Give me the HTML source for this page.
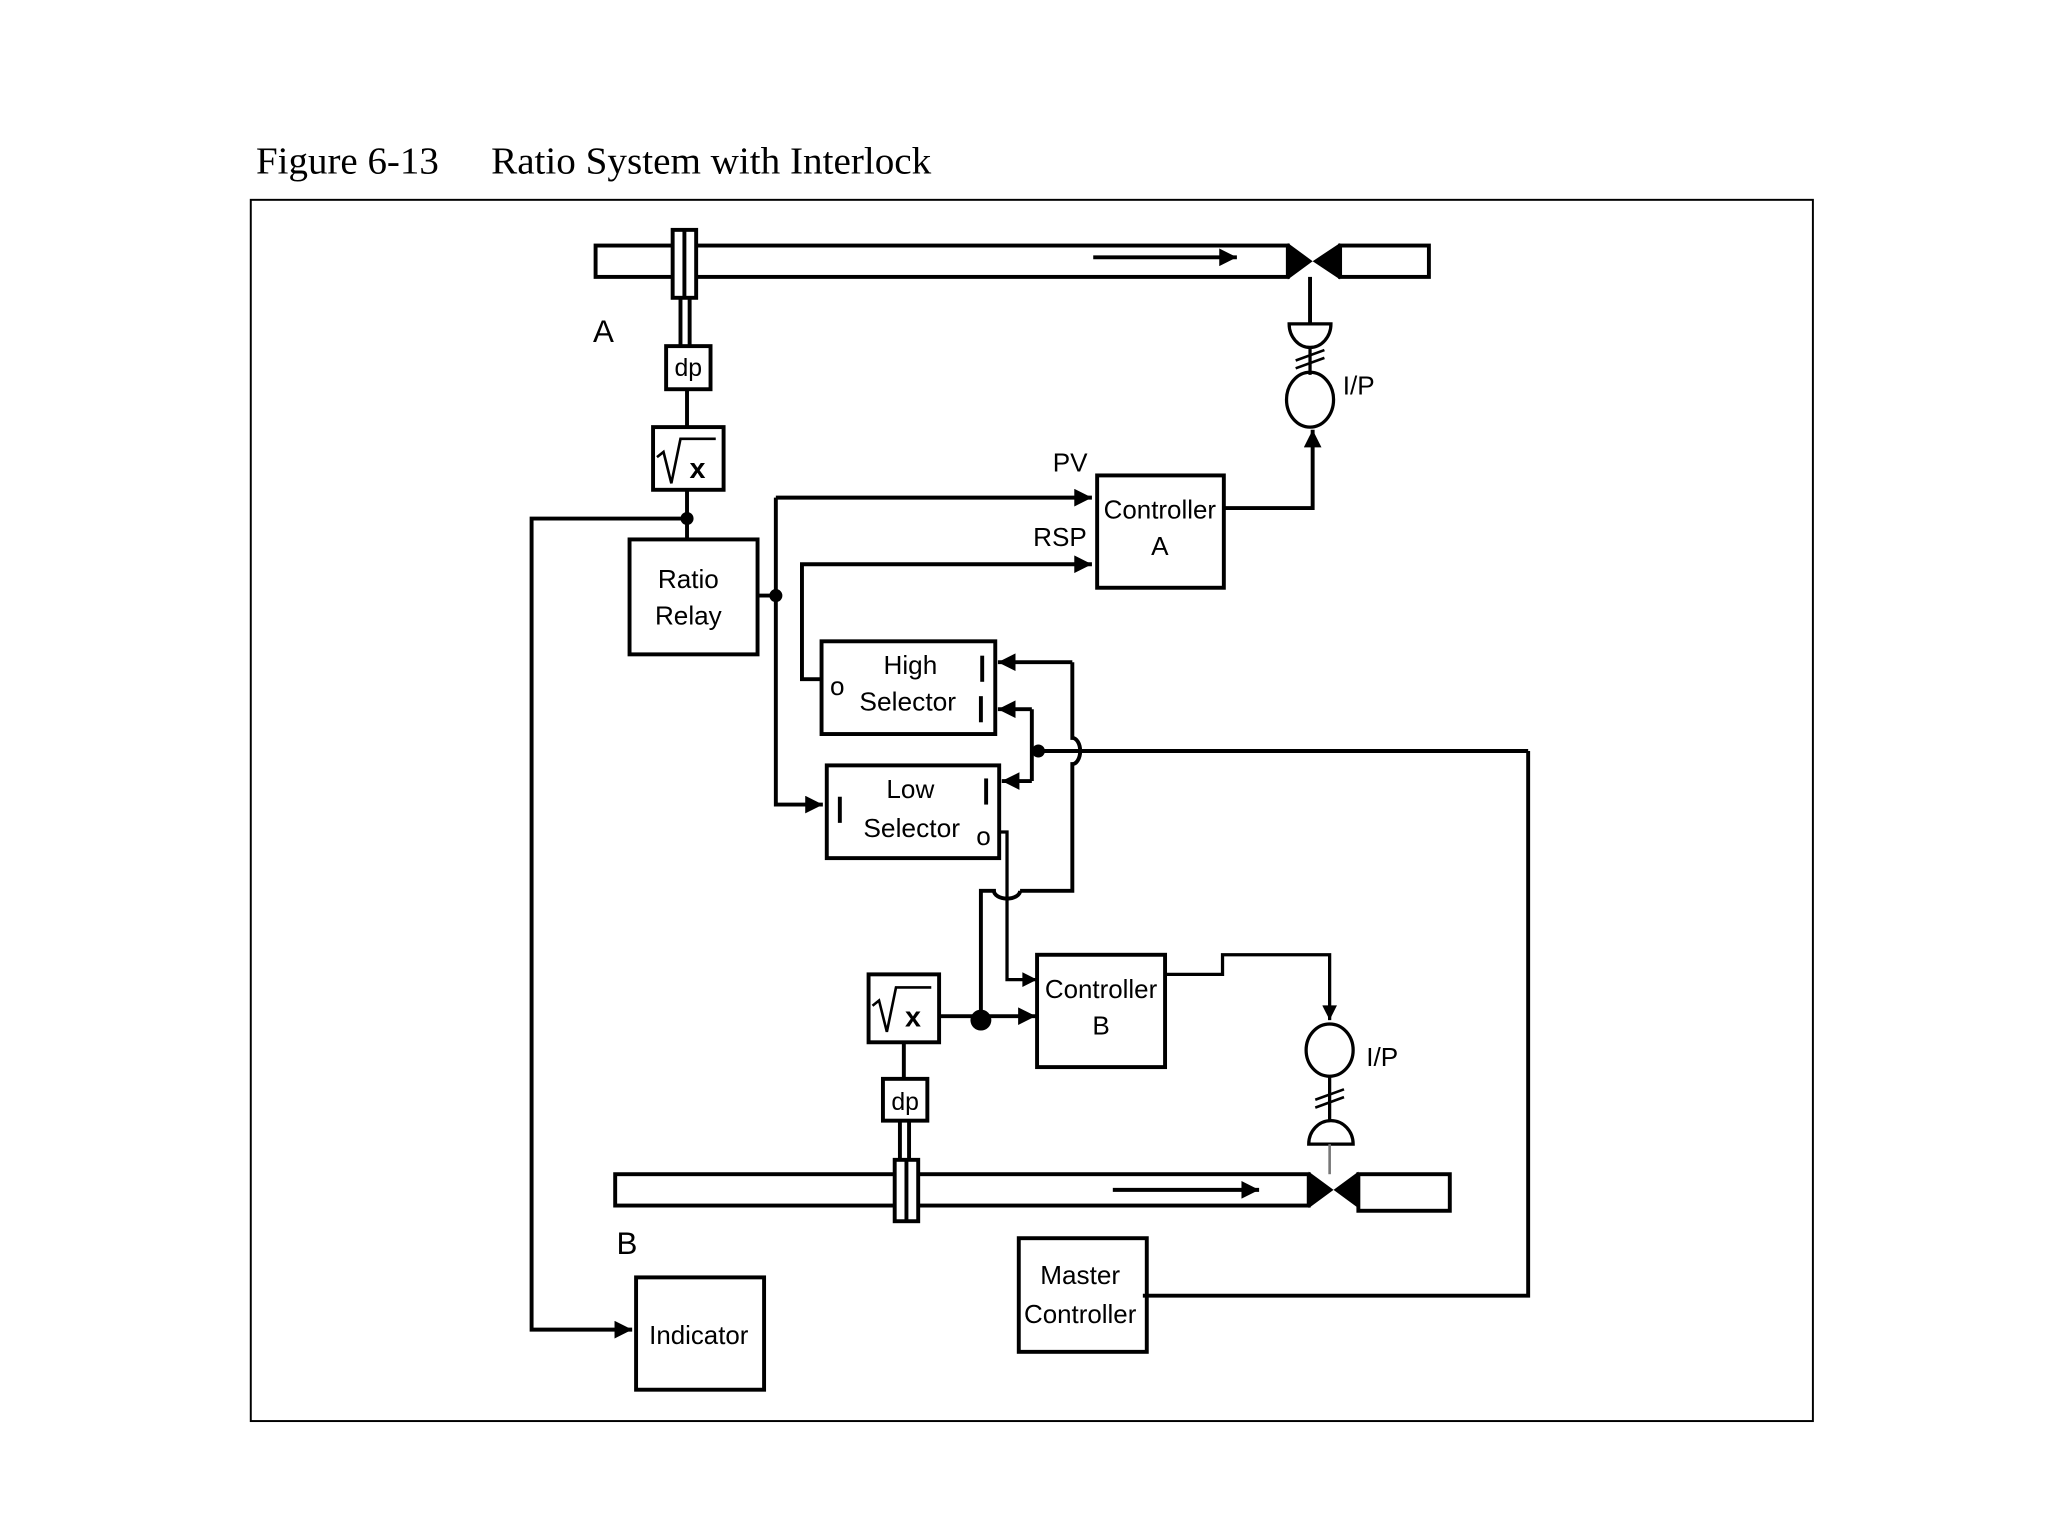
<!DOCTYPE html>
<html><head><meta charset="utf-8"><style>
html,body{margin:0;padding:0;background:#fff;}
svg{display:block;}
text{font-family:"Liberation Sans",sans-serif;fill:#000;}
</style></head><body>
<svg width="2048" height="1536" viewBox="0 0 1568 1176" preserveAspectRatio="none" xmlns="http://www.w3.org/2000/svg">
<defs>
<marker id="ar" viewBox="0 0 10 10" refX="10" refY="5" markerWidth="7" markerHeight="4.5" orient="auto" markerUnits="strokeWidth">
<path d="M0,0 L10,5 L0,10 z" fill="#000"/></marker>
</defs>
<text x="196" y="133" font-size="29" textLength="140" lengthAdjust="spacingAndGlyphs" style="font-family:'Liberation Serif',serif">Figure 6-13</text>
<text x="376" y="133" font-size="29" textLength="337" lengthAdjust="spacingAndGlyphs" style="font-family:'Liberation Serif',serif">Ratio System with Interlock</text>
<rect x="192" y="153" width="1196" height="935" fill="none" stroke="#000" stroke-width="1.5"/>

<g fill="none" stroke="#000" stroke-width="3">
<rect x="456" y="188" width="530" height="24"/>
<rect x="1026" y="188" width="68" height="24"/>
<rect x="471" y="899" width="531" height="24"/>
<rect x="1040" y="899" width="70" height="28"/>
</g>
<g fill="#000">
<path d="M986,186 L986,214 L1005,200 z M1026,186 L1026,214 L1005,200 z"/>
<path d="M1002,897 L1002,925 L1021,911 z M1040,897 L1040,925 L1021,911 z"/>
</g>
<g fill="#fff" stroke="#000" stroke-width="3">
<rect x="515" y="176" width="18" height="52"/>
<rect x="685" y="888" width="18" height="47"/>
</g>
<g stroke="#000" stroke-width="3" fill="none">
<line x1="524" y1="176" x2="524" y2="228"/>
<line x1="694" y1="888" x2="694" y2="935"/>
<line x1="837" y1="197" x2="947" y2="197" marker-end="url(#ar)"/>
<line x1="852" y1="911" x2="964" y2="911" marker-end="url(#ar)"/>
<line x1="521" y1="228" x2="521" y2="265"/><line x1="528" y1="228" x2="528" y2="265"/>
<rect x="510" y="265" width="34" height="33"/>
<line x1="526" y1="298" x2="526" y2="327"/>
<rect x="500" y="327" width="54" height="48"/>
<line x1="526" y1="375" x2="526" y2="413"/>
<path d="M526,397 L407,397 L407,1018 L484,1018" marker-end="url(#ar)"/>
<rect x="482" y="413" width="98" height="88"/>
<line x1="580" y1="456" x2="594" y2="456"/>
<path d="M594,381 L594,616 L630,616" marker-end="url(#ar)"/>
<line x1="594" y1="381" x2="836" y2="381" marker-end="url(#ar)"/>
<rect x="840" y="364" width="97" height="86"/>
<path d="M629,520 L614,520 L614,432 L836,432" marker-end="url(#ar)"/>
<path d="M937,389 L1005,389 L1005,329" marker-end="url(#ar)"/>
<line x1="1003" y1="212" x2="1003" y2="248"/>
<path d="M987,248 L1019,248 A16,18 0 0 1 987,248 z" stroke-width="2.5"/>
<line x1="1003" y1="266" x2="1003" y2="287" stroke-width="2.5"/>
<path d="M992,276 L1014,268 M992,282 L1014,274" stroke-width="2"/>
<ellipse cx="1003" cy="306" rx="18" ry="21" stroke-width="2.5"/>
<rect x="629" y="491" width="133" height="71"/>
<rect x="633" y="586" width="132" height="71"/>
<path d="M821,507 L821,565 A6,10 0 0 1 821,585 L821,682 L781,682"/>
<line x1="821" y1="507" x2="764" y2="507" marker-end="url(#ar)"/>
<path d="M781,682 A10,6 0 0 1 761,682 L751,682 L751,782"/>
<path d="M1170,575 L1170,992 L875,992" />
<line x1="1170" y1="575" x2="795" y2="575"/>
<line x1="790" y1="543" x2="790" y2="598"/>
<line x1="790" y1="543" x2="764" y2="543" marker-end="url(#ar)"/>
<line x1="790" y1="598" x2="767" y2="598" marker-end="url(#ar)"/>
<path d="M765,637 L771,637 L771,750 L794,750" marker-end="url(#ar)" stroke-width="2.5"/>
<rect x="794" y="731" width="98" height="86"/>
<rect x="665" y="746" width="54" height="52"/>
<line x1="719" y1="778" x2="793" y2="778" marker-end="url(#ar)"/>
<line x1="692" y1="798" x2="692" y2="826"/>
<rect x="676" y="826" width="34" height="32"/>
<line x1="689" y1="858" x2="689" y2="888"/><line x1="696" y1="858" x2="696" y2="888"/>
<path d="M892,746 L936,746 L936,731 L1018,731 L1018,781" marker-end="url(#ar)" stroke-width="2.5"/>
<ellipse cx="1018" cy="804" rx="18" ry="20" stroke-width="2.5"/>
<line x1="1018" y1="824" x2="1018" y2="858" stroke-width="2.5"/>
<path d="M1007,842 L1029,834 M1007,848 L1029,840" stroke-width="2"/>
<path d="M1002,876 L1036,876 A17,18 0 0 0 1002,876 z" stroke-width="2.5"/>
<line x1="1018" y1="876" x2="1018" y2="899" stroke-width="2" stroke="#777"/>
<rect x="487" y="978" width="98" height="86"/>
<rect x="780" y="948" width="98" height="87"/>
<path d="M503,350 L508,346 L514,370 L521,336 L548,336" stroke-width="2"/>
<path d="M668,770 L673,766 L679,790 L686,756 L713,756" stroke-width="2"/>
<!-- I bars -->
<g stroke-width="3">
<line x1="752" y1="502" x2="752" y2="522"/>
<line x1="751" y1="533" x2="751" y2="553"/>
<line x1="643" y1="610" x2="643" y2="630"/>
<line x1="755" y1="596" x2="755" y2="616"/>
</g>
</g>
<g fill="#000">
<circle cx="526" cy="397" r="5"/>
<circle cx="594" cy="456" r="5"/>
<circle cx="795" cy="575" r="5"/>
<circle cx="751" cy="781" r="8"/>
</g>
<g font-size="20">
<text x="454" y="262" font-size="24">A</text>
<text x="472" y="960" font-size="24">B</text>
<text x="527" y="288" text-anchor="middle" font-size="19">dp</text>
<text x="693" y="850" text-anchor="middle" font-size="19">dp</text>
<text x="534" y="366" text-anchor="middle" font-size="22" font-weight="bold">x</text>
<text x="699" y="786" text-anchor="middle" font-size="22" font-weight="bold">x</text>
<text x="1028" y="302">I/P</text>
<text x="1046" y="816">I/P</text>
<text x="806" y="361">PV</text>
<text x="791" y="418">RSP</text>
<text x="888" y="397" text-anchor="middle" textLength="86" lengthAdjust="spacingAndGlyphs">Controller</text>
<text x="888" y="425" text-anchor="middle">A</text>
<text x="527" y="450" text-anchor="middle">Ratio</text>
<text x="527" y="478" text-anchor="middle">Relay</text>
<text x="697" y="516" text-anchor="middle">High</text>
<text x="695" y="544" text-anchor="middle" textLength="74" lengthAdjust="spacingAndGlyphs">Selector</text>
<text x="641" y="532" text-anchor="middle">o</text>
<text x="697" y="611" text-anchor="middle">Low</text>
<text x="698" y="641" text-anchor="middle" textLength="74" lengthAdjust="spacingAndGlyphs">Selector</text>
<text x="753" y="647" text-anchor="middle">o</text>
<text x="843" y="764" text-anchor="middle" textLength="86" lengthAdjust="spacingAndGlyphs">Controller</text>
<text x="843" y="792" text-anchor="middle">B</text>
<text x="535" y="1029" text-anchor="middle" textLength="76" lengthAdjust="spacingAndGlyphs">Indicator</text>
<text x="827" y="983" text-anchor="middle">Master</text>
<text x="827" y="1013" text-anchor="middle" textLength="86" lengthAdjust="spacingAndGlyphs">Controller</text>
</g>
</svg>
</body></html>
